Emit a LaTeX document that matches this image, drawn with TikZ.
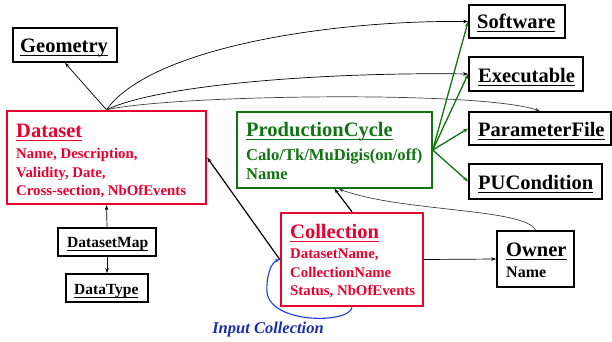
\documentclass[tikz,border=0pt]{standalone}
\usepackage{fontspec}
\setmainfont{Liberation Serif}
\usetikzlibrary{arrows.meta,calc}
\definecolor{myred}{RGB}{232,0,46}
\definecolor{mygreen}{RGB}{17,115,17}
\definecolor{myblue}{RGB}{30,60,210}
\definecolor{labblue}{RGB}{25,45,165}
\newcommand\ulx[1]{\setbox0=\hbox{#1}\rlap{\rule[-3.2pt]{\wd0}{0.6pt}}\box0}
\tikzset{
  box/.style={draw, rectangle, inner sep=0pt},
  blackbox/.style={box, draw=black, line width=1.8pt},
  redbox/.style={box, draw=myred, line width=2.4pt},
  greenbox/.style={box, draw=mygreen, line width=1.5pt},
  txt/.style={anchor=base west, inner sep=0pt, font=\bfseries},
  bigt/.style={txt, font=\bfseries\fontsize{20.5}{22}\selectfont},
  midt/.style={txt, font=\bfseries\fontsize{15.5}{17}\selectfont},
  smallt/.style={txt, font=\bfseries\fontsize{14.8}{17}\selectfont},
  tip/.style={-{Stealth[length=5pt,width=3.6pt]}},
  conn/.style={tip, line width=0.7pt, draw=black},
  grayconn/.style={tip, line width=0.7pt, draw=black!75},
  thickconn/.style={tip, line width=1.2pt, draw=black},
  greenconn/.style={tip, line width=1.3pt, draw=mygreen},
  blueconn/.style={tip, line width=1.1pt, draw=myblue},
}
\begin{document}
\begin{tikzpicture}[x=1pt,y=-1pt]
\useasboundingbox (0,0) rectangle (612,341);
% boxes
\node[blackbox, minimum width=104, minimum height=34] (geometry) at (65,45) {};
\node[redbox, minimum width=199, minimum height=93] (dataset) at (106.5,157.5) {};
\node[blackbox, minimum width=98, minimum height=28] (datasetmap) at (107,242) {};
\node[blackbox, minimum width=82, minimum height=28] (datatype) at (107,288) {};
\node[greenbox, minimum width=195, minimum height=76] (pc) at (334.5,150) {};
\node[redbox, minimum width=142, minimum height=93] (collection) at (352,259.5) {};
\node[blackbox, minimum width=77, minimum height=56] (owner) at (535.5,259) {};
\node[blackbox, minimum width=96, minimum height=33] (software) at (517,21.5) {};
\node[blackbox, minimum width=114, minimum height=34] (executable) at (526,74) {};
\node[blackbox, minimum width=142, minimum height=33] (paramfile) at (540,128.5) {};
\node[blackbox, minimum width=133, minimum height=35] (pucond) at (535.5,181.5) {};
% texts
\node[bigt] (tgeo) at (20,52) {\ulx{Geometry}};
\node[bigt] (tsoft) at (477,28) {\ulx{Software}};
\node[bigt] (texe) at (478,82) {\ulx{Executable}};
\node[bigt] (tpar) at (478,136) {\ulx{ParameterFile}};
\node[bigt] (tpu) at (478,189) {\ulx{PUCondition}};
\node[bigt, text=myred] (tds) at (16,137) {\ulx{Dataset}};
\node[smallt, text=myred] (tds1) at (16,158) {Name, Description,};
\node[smallt, text=myred] (tds2) at (16,177) {Validity, Date,};
\node[smallt, text=myred] (tds3) at (16,195) {Cross-section, NbOfEvents};
\node[midt] (tdm) at (67,247) {\ulx{DatasetMap}};
\node[midt] (tdt) at (74,294) {\ulx{DataType}};
\node[bigt, text=mygreen] (tpc) at (246,136) {\ulx{ProductionCycle}};
\node[txt, font=\bfseries\fontsize{16.6}{18}\selectfont, text=mygreen] (tpc1) at (246,160) {Calo/Tk/MuDigis(on/off)};
\node[txt, font=\bfseries\fontsize{16.6}{18}\selectfont, text=mygreen] (tpc2) at (246,179) {Name};
\node[bigt, text=myred] (tcol) at (290,238) {\ulx{Collection}};
\node[smallt, text=myred] (tcol1) at (290,258) {DatasetName,};
\node[smallt, text=myred] (tcol2) at (290,277) {CollectionName};
\node[smallt, text=myred] (tcol3) at (290,295) {Status, NbOfEvents};
\node[bigt] (town) at (506,256) {\ulx{Owner}};
\node[txt, font=\bfseries\fontsize{16}{18}\selectfont] (town1) at (506,277) {Name};
\node[anchor=base, inner sep=0pt, text=labblue, font=\bfseries\itshape\fontsize{16.5}{18}\selectfont] (tinput) at (268,333) {Input Collection};
% connectors
\draw[conn] (dataset.north) -- (geometry.south);
\draw[conn] (dataset.north) .. controls (150,48) and (330,20) .. (software.west);
\draw[conn] (dataset.north) .. controls (160,84) and (330,72) .. (executable.west);
\draw[grayconn] (dataset.north) .. controls (170,95) and (480,90) .. (paramfile.north);
\draw[greenconn] (pc.east) -- (software.west);
\draw[greenconn] (pc.east) -- (executable.west);
\draw[greenconn] (pc.east) -- (paramfile.west);
\draw[greenconn] (pc.east) -- (pucond.west);
\draw[thickconn] (collection.west) -- (dataset.east);
\draw[thickconn] (collection.north) -- (pc.south);
\draw[grayconn] (owner.north) .. controls (525,208) and (400,212) .. ($(pc.south)+(4,0)$);
\draw[conn] (collection.east) -- (owner.west);
\draw[conn] (datasetmap.north) -- (dataset.south);
\draw[conn] (datasetmap.south) -- (datatype.north);
\draw[blueconn] (collection.south) .. controls (350,324) and (270,324) .. (267,292) .. controls (266,274) and (272,262) .. (collection.west);
\end{tikzpicture}
\end{document}
